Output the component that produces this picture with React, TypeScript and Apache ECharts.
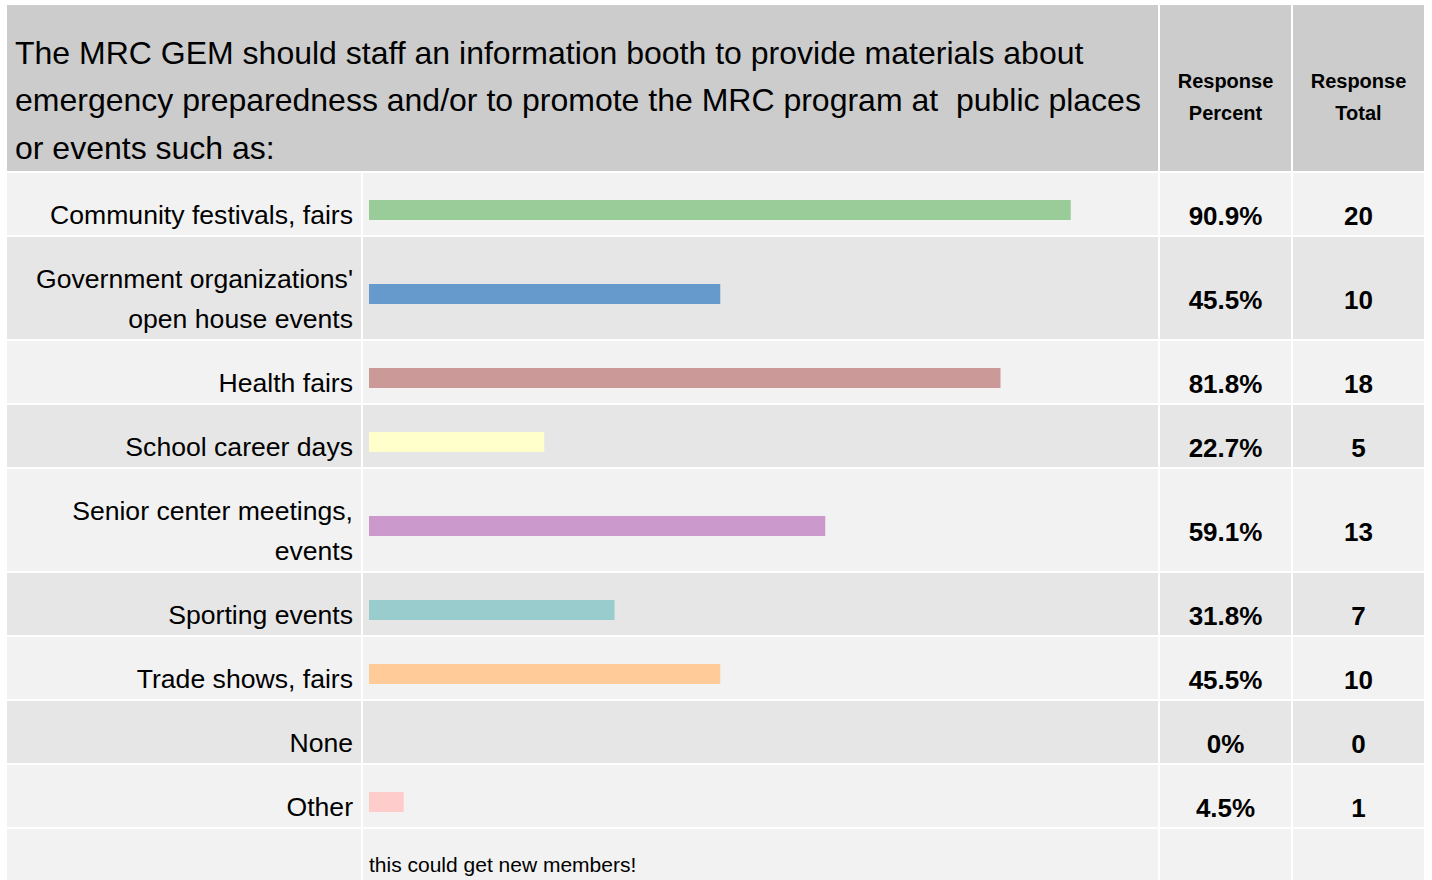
import React, { useEffect, useRef } from "react";
import * as echarts from "echarts";

const titleText =
  "The MRC GEM should staff an information booth to provide materials about\nemergency preparedness and/or to promote the MRC program at  public places\nor events such as:";
const headerPercent = "Response\nPercent";
const headerTotal = "Response\nTotal";
const categories = [
  "Community festivals, fairs",
  "Government organizations'\nopen house events",
  "Health fairs",
  "School career days",
  "Senior center meetings,\nevents",
  "Sporting events",
  "Trade shows, fairs",
  "None",
  "Other",
];
const percents = [90.9, 45.5, 81.8, 22.7, 59.1, 31.8, 45.5, 0, 4.5];
const totals = [20, 10, 18, 5, 13, 7, 10, 0, 1];
const barColors = [
  "#99cc99",
  "#6699cc",
  "#cc9999",
  "#ffffcc",
  "#cc99cc",
  "#99cccc",
  "#ffcc99",
  "#cccccc",
  "#ffcccc",
];
const otherComments = ["this could get new members!"];

const FONT = "'Liberation Sans', Arial, Helvetica, sans-serif";

export default function App() {
  const ref = useRef<HTMLDivElement>(null);
  useEffect(() => {
    if (!ref.current) return;
    const chart = echarts.init(ref.current, undefined, { renderer: "svg" });

    const colL = 7, colLE = 361, colB = 363, colBE = 1158, colP = 1160, colPE = 1291, colT = 1293, colTE = 1424;
    const headerTop = 5, headerBottom = 171;
    const gap = 2;
    const rows: { top: number; h: number }[] = [];
    let y = headerBottom + gap;
    categories.forEach((c) => {
      const lines = c.split("\n").length;
      const h = 62 + (lines - 1) * 40;
      rows.push({ top: y, h });
      y += h + gap;
    });
    const commentTop = y;
    const commentH = 880 - commentTop + 20;

    const graphic: any[] = [];
    const rect = (x1: number, y1: number, x2: number, y2: number, fill: string) =>
      graphic.push({ type: "rect", z: -10, silent: true, shape: { x: x1, y: y1, width: x2 - x1, height: y2 - y1 }, style: { fill } });

    // header
    rect(colL, headerTop, colBE, headerBottom, "#cccccc");
    rect(colP, headerTop, colPE, headerBottom, "#cccccc");
    rect(colT, headerTop, colTE, headerBottom, "#cccccc");
    graphic.push({
      type: "text", z: 5, silent: true, x: 15, y: 100,
      style: { text: titleText, fontSize: 32, lineHeight: 47.5, fontFamily: FONT, fill: "#000", align: "left", verticalAlign: "middle" },
    });
    graphic.push({
      type: "text", z: 5, silent: true, x: (colP + colPE) / 2, y: 97,
      style: { text: headerPercent, fontSize: 20, fontWeight: "bold", lineHeight: 32, fontFamily: FONT, fill: "#000", align: "center", verticalAlign: "middle" },
    });
    graphic.push({
      type: "text", z: 5, silent: true, x: (colT + colTE) / 2, y: 97,
      style: { text: headerTotal, fontSize: 20, fontWeight: "bold", lineHeight: 32, fontFamily: FONT, fill: "#000", align: "center", verticalAlign: "middle" },
    });

    const grids: any[] = [], xAxes: any[] = [], yAxes: any[] = [], series: any[] = [];
    rows.forEach((r, i) => {
      const fill = i % 2 === 0 ? "#f2f2f2" : "#e6e6e6";
      rect(colL, r.top, colLE, r.top + r.h, fill);
      rect(colB, r.top, colBE, r.top + r.h, fill);
      rect(colP, r.top, colPE, r.top + r.h, fill);
      rect(colT, r.top, colTE, r.top + r.h, fill);
      const textY = r.top + r.h / 2 + 11.5;
      graphic.push({
        type: "text", z: 5, silent: true, x: 353, y: textY - 1,
        style: { text: categories[i], fontSize: 26.6, lineHeight: 40, fontFamily: FONT, fill: "#000", align: "right", verticalAlign: "middle" },
      });
      graphic.push({
        type: "text", z: 5, silent: true, x: (colP + colPE) / 2, y: textY,
        style: { text: percents[i] + "%", fontSize: 26, fontWeight: "bold", fontFamily: FONT, fill: "#000", align: "center", verticalAlign: "middle" },
      });
      graphic.push({
        type: "text", z: 5, silent: true, x: (colT + colTE) / 2, y: textY,
        style: { text: String(totals[i]), fontSize: 26, fontWeight: "bold", fontFamily: FONT, fill: "#000", align: "center", verticalAlign: "middle" },
      });
      grids.push({ left: 369, width: 772, top: r.top + 12, height: r.h - 12 });
      xAxes.push({ type: "value", gridIndex: i, min: 0, max: 100, show: false });
      yAxes.push({
        type: "category", gridIndex: i, data: [categories[i]],
        axisLine: { show: false }, axisTick: { show: false }, splitLine: { show: false },
        axisLabel: { show: false },
      });
      series.push({
        type: "bar", xAxisIndex: i, yAxisIndex: i, data: [percents[i]], barWidth: 20,
        itemStyle: { color: barColors[i] }, silent: true,
      });
    });

    // comment row
    rect(colL, commentTop, colLE, commentTop + commentH, "#f2f2f2");
    rect(colB, commentTop, colBE, commentTop + commentH, "#f2f2f2");
    rect(colP, commentTop, colPE, commentTop + commentH, "#f2f2f2");
    rect(colT, commentTop, colTE, commentTop + commentH, "#f2f2f2");
    otherComments.forEach((c, k) => {
      graphic.push({
        type: "text", z: 5, silent: true, x: 369, y: commentTop + 35 + k * 30,
        style: { text: c, fontSize: 21, fontFamily: FONT, fill: "#000", align: "left", verticalAlign: "middle" },
      });
    });

    chart.setOption({
      animation: false,
      backgroundColor: "#ffffff",
      grid: grids,
      xAxis: xAxes,
      yAxis: yAxes,
      series,
      graphic,
    });
    return () => chart.dispose();
  }, []);
  return <div ref={ref} style={{ position: "absolute", left: 0, top: 0, width: 1432, height: 880 }} />;
}
